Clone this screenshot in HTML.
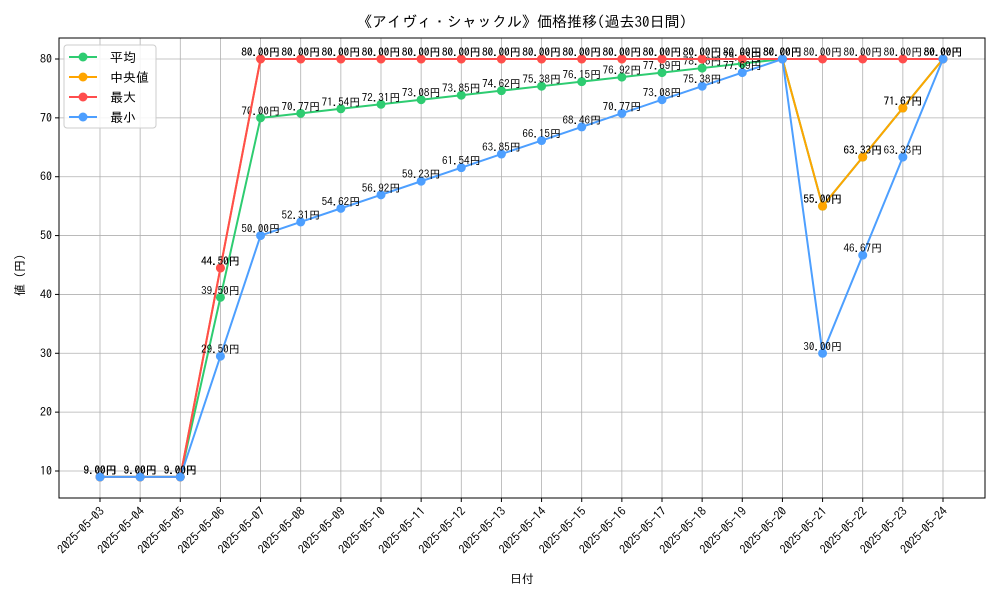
<!DOCTYPE html>
<html><head><meta charset="utf-8">
<style>
body{margin:0;background:#fff;}
svg text{font-family:"IPAGothic","Liberation Sans","Noto Sans CJK JP",sans-serif;}
</style></head>
<body>
<svg id="chart" width="1000" height="600" xmlns="http://www.w3.org/2000/svg">
<rect width="1000" height="600" fill="#fff"/>
<text x="522" y="27" text-anchor="middle" font-size="15">《アイヴィ・シャックル》価格推移(過去30日間)</text>
<text x="522" y="583" text-anchor="middle" font-size="12">日付</text>
<text transform="translate(24,272) rotate(-90)" text-anchor="middle" font-size="12">値（円）</text>
<g id="grid"></g><g id="series"></g><g id="axes"></g>
</svg>
<script>
const dates=["2025-05-03","2025-05-04","2025-05-05","2025-05-06","2025-05-07","2025-05-08","2025-05-09","2025-05-10","2025-05-11","2025-05-12","2025-05-13","2025-05-14","2025-05-15","2025-05-16","2025-05-17","2025-05-18","2025-05-19","2025-05-20","2025-05-21","2025-05-22","2025-05-23","2025-05-24"];
const avgVals=[9,9,9,39.5,70,70.77,71.54,72.31,73.08,73.85,74.62,75.38,76.15,76.92,77.69,78.46,79.23,80,55,63.33,71.67,80];
const medVals=[9,9,9,44.5,80,80,80,80,80,80,80,80,80,80,80,80,80,80,55,63.33,71.67,80];
const maxVals=[9,9,9,44.5,80,80,80,80,80,80,80,80,80,80,80,80,80,80,80,80,80,80];
const minVals=[9,9,9,29.5,50,52.31,54.62,56.92,59.23,61.54,63.85,66.15,68.46,70.77,73.08,75.38,77.69,80,30,46.67,63.33,80];
const yTicks=[10,20,30,40,50,60,70,80];
const seriesNames=["平均","中央値","最大","最小"];
const NS="http://www.w3.org/2000/svg";
const L=59,R=985,T=38,B=498;
function xs(i){return 100+i*(943-100)/21;}
function ys(v){return 471-(v-10)*(412/70);}
function mk(tag,attrs,parent,txt){const e=document.createElementNS(NS,tag);for(const k in attrs)e.setAttribute(k,attrs[k]);if(txt!==undefined)e.textContent=txt;parent.appendChild(e);return e;}
const grid=document.getElementById('grid'),ser=document.getElementById('series'),axes=document.getElementById('axes');
dates.forEach((d,i)=>{
 const g=mk('line',{x1:xs(i),x2:xs(i),y1:T,y2:B,stroke:'#b0b0b0','stroke-width':0.8},grid);
 
 
 const t=mk('line',{x1:xs(i),x2:xs(i),y1:B,y2:B+4,stroke:'#000'},axes);
 
 
 const lb=mk('text',{x:xs(i)+5,y:B+14,'font-size':12,'text-anchor':'end',transform:`rotate(-45 ${xs(i)+5} ${B+14})`},axes,d);
 
 
});
yTicks.forEach(v=>{
 const g=mk('line',{x1:L,x2:R,y1:ys(v),y2:ys(v),stroke:'#b0b0b0','stroke-width':0.8},grid);
 
 
 const t=mk('line',{x1:L-4,x2:L,y1:ys(v),y2:ys(v),stroke:'#000'},axes);
 
 
 const lb=mk('text',{x:L-7,y:ys(v)+4,'font-size':12,'text-anchor':'end'},axes,String(v));
 
 
});
const fr=mk('rect',{x:L,y:T,width:R-L,height:B-T,fill:'none',stroke:'#000','stroke-width':1},axes);


const colors=["#2ecc71","#ffa500","#ff4d4d","#4d9fff"];
[avgVals,medVals,maxVals,minVals].forEach((vals,s)=>{
 const g=mk('g',{},ser);
 
 
 const pl=mk('polyline',{points:vals.map((v,i)=>xs(i)+','+ys(v)).join(' '),fill:'none',stroke:colors[s],'stroke-width':2},g);
 
 
 vals.forEach((v,i)=>{
  const c=mk('circle',{cx:xs(i),cy:ys(v),r:4.5,fill:colors[s]},g);
  
  
  const t=mk('text',{x:xs(i),y:ys(v)-3,'font-size':11,'text-anchor':'middle'},g,v.toFixed(2)+'円');
  
  
 });
});
const lg=mk('g',{},axes);


mk('rect',{x:64,y:45,width:92,height:83,rx:3,fill:'#fff','fill-opacity':0.85,stroke:'#ccc'},lg);
seriesNames.forEach((n,s)=>{
 const y=57+s*20;
 const e=mk('g',{},lg);
 
 
 mk('line',{x1:69,x2:97,y1:y,y2:y,stroke:colors[s],'stroke-width':2},e);
 mk('circle',{cx:83,cy:y,r:4.5,fill:colors[s]},e);
 mk('text',{x:110,y:y+5,'font-size':13},e,n);
});
</script>
</body></html>
